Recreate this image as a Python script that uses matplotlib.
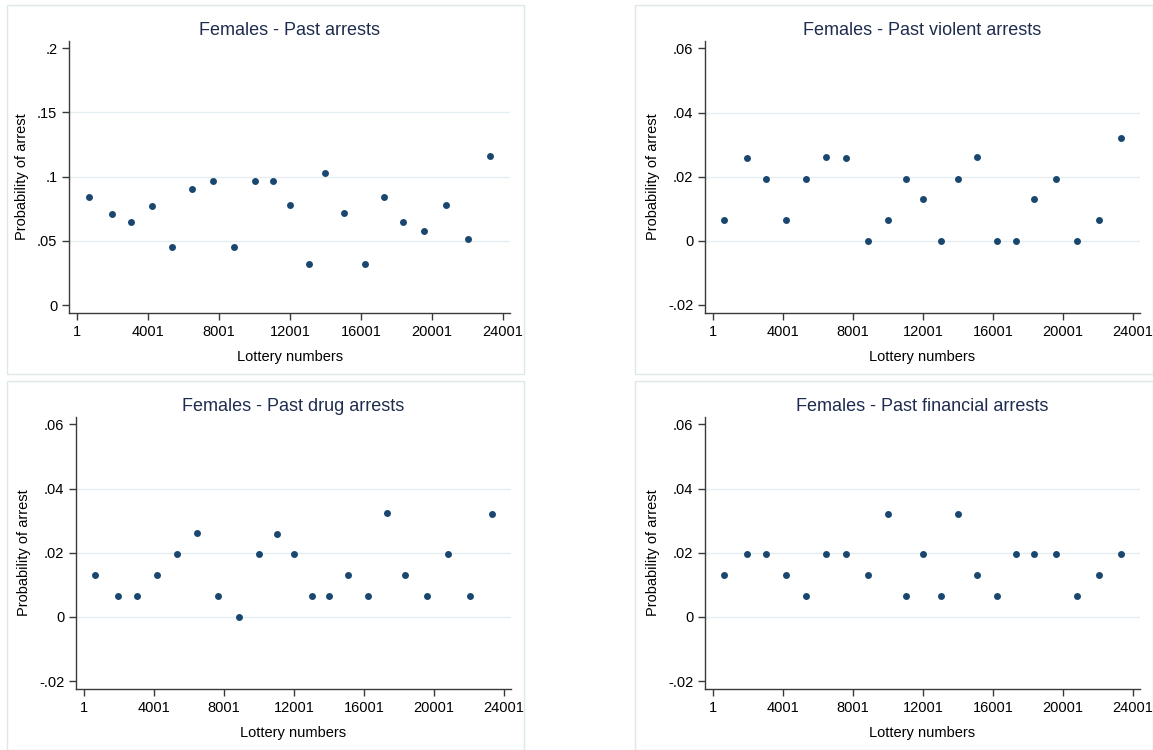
import matplotlib
matplotlib.use('Agg')
import matplotlib.pyplot as plt
from matplotlib.patches import Rectangle

plt.rcParams['font.family'] = ['Liberation Sans', 'DejaVu Sans']

# bin midpoints of the lottery numbers (same for every panel)
lottery = [640, 1940, 3015, 4195, 5345, 6465, 7635, 8850, 10030, 11020, 11990,
           13045, 13995, 15070, 16230, 17305, 18370, 19575, 20785, 22060, 23295]

past_arrests = [0.0842, 0.0712, 0.0649, 0.0771, 0.0452, 0.0906, 0.0966, 0.0452,
                0.0966, 0.0966, 0.0782, 0.0319, 0.1031, 0.0714, 0.0319, 0.0842,
                0.0645, 0.0580, 0.0782, 0.0516, 0.1161]
violent_arrests = [0.0064, 0.0258, 0.0194, 0.0064, 0.0194, 0.0261, 0.0258, 0.0,
                   0.0064, 0.0194, 0.0130, 0.0, 0.0194, 0.0261, 0.0, 0.0,
                   0.0130, 0.0194, 0.0, 0.0064, 0.0322]
drug_arrests = [0.0130, 0.0065, 0.0065, 0.0130, 0.0195, 0.0261, 0.0065, 0.0,
                0.0195, 0.0258, 0.0195, 0.0065, 0.0065, 0.0130, 0.0065, 0.0325,
                0.0130, 0.0065, 0.0195, 0.0065, 0.0322]
financial_arrests = [0.0130, 0.0195, 0.0195, 0.0130, 0.0065, 0.0195, 0.0195, 0.0130,
                     0.0322, 0.0065, 0.0195, 0.0065, 0.0322, 0.0130, 0.0065, 0.0195,
                     0.0195, 0.0195, 0.0065, 0.0130, 0.0195]

titles = ['Females - Past arrests', 'Females - Past violent arrests',
          'Females - Past drug arrests', 'Females - Past financial arrests']
series = [past_arrests, violent_arrests, drug_arrests, financial_arrests]

xticks = [1, 4001, 8001, 12001, 16001, 20001, 24001]
yticks_big = [0, 0.05, 0.1, 0.15, 0.2]
ylabels_big = ['0', '.05', '.1', '.15', '.2']
yticks_small = [-0.02, 0, 0.02, 0.04, 0.06]
ylabels_small = ['-.02', '0', '.02', '.04', '.06']

navy = '#1a476f'
title_col = '#1e2d4f'
axis_col = '#3a3a3a'
grid_col = '#e4eef0'

fig = plt.figure(figsize=(11.53, 7.5), dpi=100)

# light outline of every graph region
for (x0, y0, w, h) in [(7, 5, 517, 369), (635, 5, 518, 369),
                       (7, 381, 517, 369), (635, 381, 518, 369)]:
    fig.patches.append(Rectangle((x0 / 1153, 1 - (y0 + h) / 750), w / 1153, h / 750,
                                 transform=fig.transFigure, fill=False,
                                 edgecolor='#dde8ea', linewidth=1.0))

positions = [[0.0600, 0.5827, 0.3823, 0.3630],
             [0.6114, 0.5827, 0.3773, 0.3630],
             [0.0659, 0.0813, 0.3773, 0.3631],
             [0.6114, 0.0813, 0.3773, 0.3631]]

for i in range(4):
    ax = fig.add_axes(positions[i])
    if i == 0:
        yt, yl = yticks_big, ylabels_big
        ax.set_ylim(-0.0062, 0.2059)
    else:
        yt, yl = yticks_small, ylabels_small
        ax.set_ylim(-0.0225, 0.0624)
    ax.set_xlim(-450, 24400)

    # stata style grid, not on the outer ticks
    for v in yt[1:-1]:
        ax.axhline(v, color=grid_col, linewidth=1.0, zorder=0)

    ax.scatter(lottery, series[i], s=25, color=navy, zorder=3, linewidths=0)

    ax.set_xticks(xticks)
    ax.set_xticklabels([str(t) for t in xticks])
    ax.set_yticks(yt)
    ax.set_yticklabels(yl)

    for sp in ['top', 'right']:
        ax.spines[sp].set_visible(False)
    for sp in ['left', 'bottom']:
        ax.spines[sp].set_color(axis_col)
        ax.spines[sp].set_linewidth(1.0)
    ax.tick_params(axis='both', colors=axis_col, labelcolor='black',
                   labelsize=10.5, length=5, width=1.0, direction='out')

    ax.set_title(titles[i], fontsize=13, color=title_col, pad=4)
    ax.set_xlabel('Lottery numbers', fontsize=10.5, labelpad=8)
    ax.set_ylabel('Probability of arrest', fontsize=10.5, labelpad=6)

plt.savefig('out.png', dpi=100)
